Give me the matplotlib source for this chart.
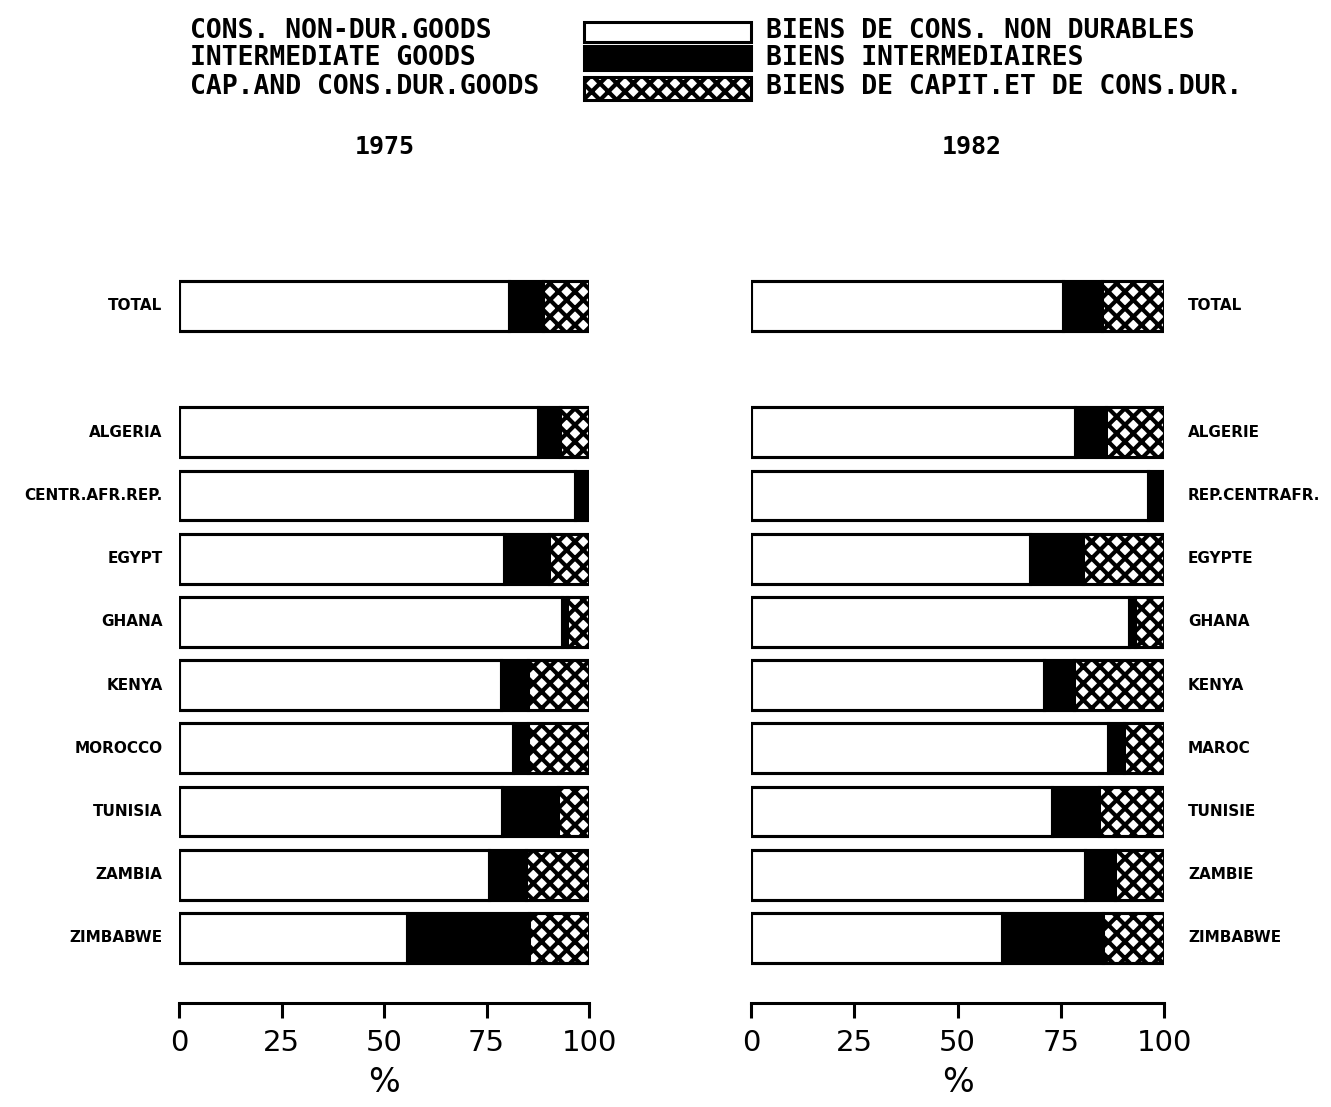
import matplotlib
matplotlib.use("Agg")
import matplotlib.pyplot as plt
from matplotlib.patches import Rectangle

# rows, top to bottom (TOTAL then a gap)
labels_en = ["TOTAL", "ALGERIA", "CENTR.AFR.REP.", "EGYPT", "GHANA", "KENYA",
             "MOROCCO", "TUNISIA", "ZAMBIA", "ZIMBABWE"]
labels_fr = ["TOTAL", "ALGERIE", "REP.CENTRAFR.", "EGYPTE", "GHANA", "KENYA",
             "MAROC", "TUNISIE", "ZAMBIE", "ZIMBABWE"]

# shares in % : non-durable consumer, intermediate, capital & durable consumer
nondur_1975 = [80.6, 87.6, 96.6, 79.3, 93.5, 78.5, 81.5, 78.7, 75.6, 55.7]
inter_1975 = [8.1, 5.3, 3.4, 11.0, 1.1, 6.7, 3.7, 13.7, 9.0, 29.7]
capdur_1975 = [11.3, 7.1, 0.0, 9.7, 5.4, 14.8, 14.8, 7.6, 15.4, 14.6]

nondur_1982 = [75.5, 78.5, 96.2, 67.6, 91.6, 70.9, 86.4, 72.8, 80.9, 60.8]
inter_1982 = [9.4, 7.4, 3.8, 12.9, 1.4, 7.4, 3.8, 11.5, 7.2, 24.4]
capdur_1982 = [15.1, 14.1, 0.0, 19.5, 7.0, 21.7, 9.8, 15.7, 11.9, 14.8]

years = ["1975", "1982"]
xticks = [0, 25, 50, 75, 100]

legend_en = ["CONS. NON-DUR.GOODS", "INTERMEDIATE GOODS", "CAP.AND CONS.DUR.GOODS"]
legend_fr = ["BIENS DE CONS. NON DURABLES", "BIENS INTERMEDIAIRES",
             "BIENS DE CAPIT.ET DE CONS.DUR."]

plt.rcParams["hatch.linewidth"] = 3.0
W, H = 1331, 1107
fig = plt.figure(figsize=(W / 100, H / 100), dpi=100)

rows = [0] + list(range(2, 11))
mono = ["DejaVu Sans Mono"]
narrow = ["Liberation Sans Narrow", "DejaVu Sans"]


def px_axes(x0, y0, x1, y1):
    # axes from pixel box (top-left origin)
    return fig.add_axes([x0 / W, 1 - y1 / H, (x1 - x0) / W, (y1 - y0) / H])


def draw_panel(ax, nondur, inter, capdur, labels, side):
    lw = 2.2
    h = 0.79
    ax.barh(rows, nondur, height=h, color="white", edgecolor="black", linewidth=lw)
    ax.barh(rows, inter, left=nondur, height=h, color="black", edgecolor="black", linewidth=lw)
    left2 = [a + b for a, b in zip(nondur, inter)]
    ax.barh(rows, capdur, left=left2, height=h, color="white", edgecolor="black",
            hatch="xx", linewidth=lw)
    # outline of the whole bar
    tot = [a + b + c for a, b, c in zip(nondur, inter, capdur)]
    ax.barh(rows, tot, height=h, fill=False, edgecolor="black", linewidth=lw)

    ax.set_xlim(0, 100)
    ax.set_ylim(11.03, -0.6)
    for s in ["top", "left", "right"]:
        ax.spines[s].set_visible(False)
    ax.spines["bottom"].set_linewidth(2.2)
    ax.spines["bottom"].set_bounds(0, 100)
    ax.set_yticks([])
    ax.set_xticks(xticks)
    ax.set_xticklabels([str(t) for t in xticks], family=narrow, fontsize=21)
    ax.tick_params(axis="x", direction="out", length=11, width=2.2, pad=8)
    ax.set_xlabel("%", family=narrow, fontsize=24, labelpad=6)

    for r, lab in zip(rows, labels):
        if side == "left":
            ax.text(-0.04, r, lab, transform=ax.get_yaxis_transform(), ha="right",
                    va="center", fontsize=11, fontweight="bold")
        else:
            ax.text(1.058, r, lab, transform=ax.get_yaxis_transform(), ha="left",
                    va="center", fontsize=11, fontweight="bold")


axL = px_axes(179, 268, 589, 1003)
draw_panel(axL, nondur_1975, inter_1975, capdur_1975, labels_en, "left")
axR = px_axes(751, 268, 1164, 1003)
draw_panel(axR, nondur_1982, inter_1982, capdur_1982, labels_fr, "right")

# year titles
fig.text(385 / W, 1 - 147 / H, years[0], ha="center", va="center", family=mono,
         fontsize=18, fontweight="bold")
fig.text(972 / W, 1 - 147 / H, years[1], ha="center", va="center", family=mono,
         fontsize=18, fontweight="bold")

# legend drawn by hand
lax = px_axes(0, 0, W, 110)
lax.set_xlim(0, W)
lax.set_ylim(110, 0)
lax.axis("off")
boxes = [(22, 42), (46, 70), (77, 100)]
styles = [dict(facecolor="white"), dict(facecolor="black"),
          dict(facecolor="white", hatch="xx")]
text_y = [31, 58, 87]
for (y0, y1), st, ty, en, fr in zip(boxes, styles, text_y, legend_en, legend_fr):
    lax.add_patch(Rectangle((584, y0), 167, y1 - y0, edgecolor="black", linewidth=2.2, **st))
    lax.text(190, ty, en, ha="left", va="center", family=mono, fontsize=19, fontweight="bold")
    lax.text(766, ty, fr, ha="left", va="center", family=mono, fontsize=19, fontweight="bold")

fig.savefig("out.png", dpi=100, facecolor="white")
